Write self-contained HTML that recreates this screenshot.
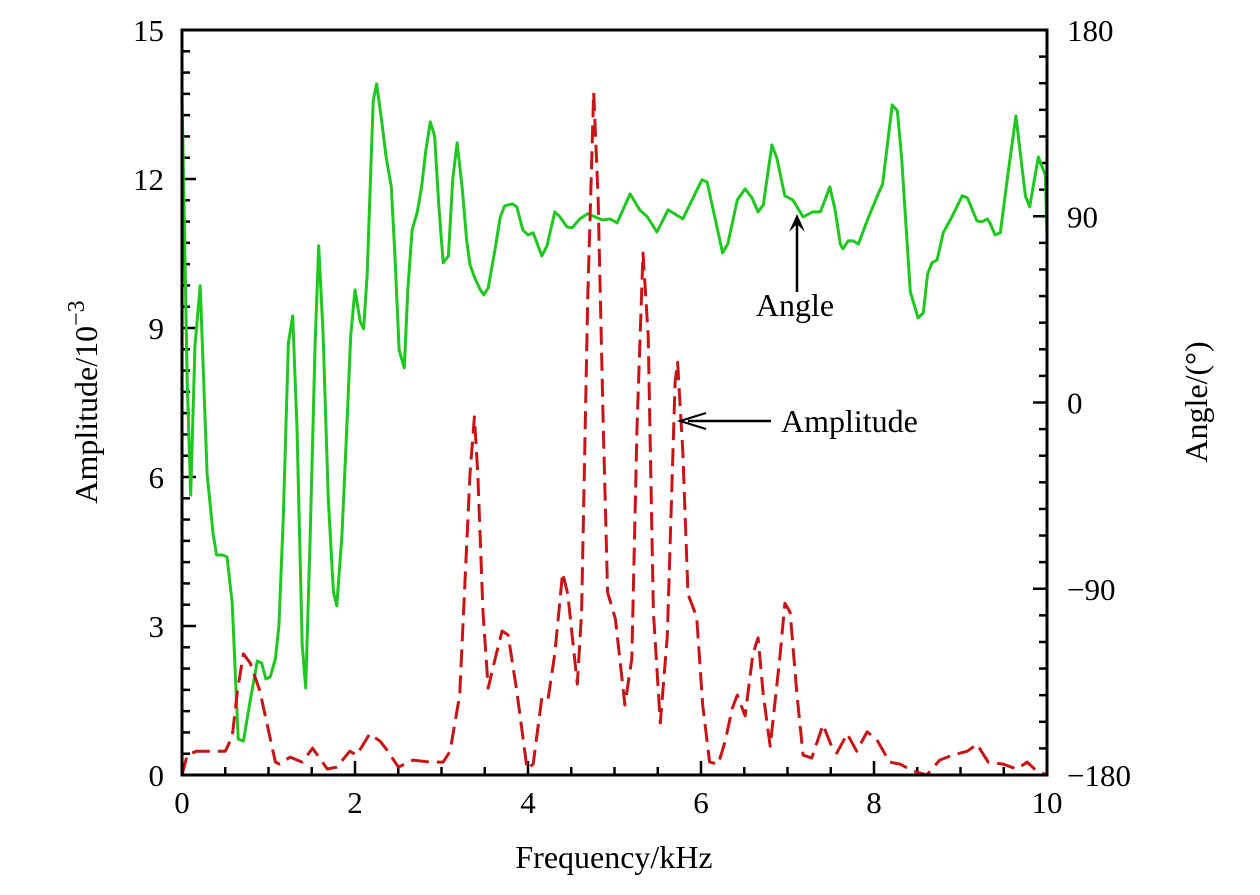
<!DOCTYPE html>
<html><head><meta charset="utf-8"><style>
html,body{margin:0;padding:0;background:#fff;}
svg text{font-family:"Liberation Serif",serif;fill:#000;}
</style></head><body>
<svg id="chart" width="1260" height="890" viewBox="0 0 1260 890" xmlns="http://www.w3.org/2000/svg">
<g id="ticks"></g>
<g id="series"></g>
<rect x="182" y="30" width="865" height="745" fill="none" stroke="#000" stroke-width="3"/>
<g id="labels" font-size="31"></g>
<text x="614" y="868" font-size="32" text-anchor="middle">Frequency/kHz</text>
<text transform="translate(97,402) rotate(-90)" font-size="32" text-anchor="middle">Amplitude/10<tspan dy="-13" font-size="24">−3</tspan></text>
<text transform="translate(1207,402) rotate(-90)" font-size="32" text-anchor="middle">Angle/(°)</text>
<g>
<line x1="797" y1="292" x2="797" y2="222" stroke="#000" stroke-width="2.5"/>
<path d="M789,232 L797,214 L805,232 L797,224 Z" fill="#000"/>
<text x="795" y="316" font-size="32" text-anchor="middle">Angle</text>
</g>
<g>
<line x1="771" y1="421" x2="688" y2="421" stroke="#000" stroke-width="2.5"/>
<path d="M706,413 L680,421 L706,429" fill="none" stroke="#000" stroke-width="2"/>
<text x="781" y="432" font-size="32">Amplitude</text>
</g>
</svg>
<script>
const ampFreq=[0,0.06,0.17,0.36,0.50,0.58,0.64,0.71,0.79,0.90,0.98,1.08,1.13,1.25,1.39,1.51,1.68,1.79,1.94,2.02,2.17,2.29,2.38,2.50,2.67,2.87,3.02,3.10,3.21,3.33,3.38,3.42,3.48,3.54,3.62,3.70,3.77,3.87,3.99,4.06,4.16,4.23,4.31,4.40,4.46,4.57,4.62,4.69,4.76,4.81,4.87,4.92,5.01,5.06,5.12,5.20,5.26,5.33,5.39,5.45,5.53,5.61,5.70,5.73,5.79,5.85,5.95,6.02,6.10,6.20,6.28,6.36,6.42,6.51,6.60,6.66,6.72,6.80,6.91,6.97,7.03,7.11,7.18,7.28,7.41,7.51,7.57,7.69,7.80,7.92,8.03,8.18,8.30,8.45,8.61,8.76,8.91,9.08,9.19,9.32,9.49,9.65,9.77,9.88,10];
const ampValues=[0,0.40,0.48,0.48,0.48,0.77,1.69,2.44,2.25,1.69,1.05,0.26,0.22,0.36,0.26,0.54,0.12,0.16,0.48,0.40,0.83,0.68,0.48,0.16,0.30,0.26,0.26,0.48,1.61,6.06,7.21,6.06,3.28,1.75,2.34,2.90,2.82,1.69,0.12,0.22,1.55,1.51,2.44,4.07,3.64,1.83,3.28,9.58,13.75,11.62,6.99,3.68,3.14,2.36,1.41,2.34,6.99,10.51,8.84,3.28,1.05,2.80,7.91,8.31,6.52,3.64,3.18,1.41,0.26,0.22,0.68,1.33,1.61,1.19,2.44,2.76,1.61,0.58,2.34,3.46,3.28,1.61,0.40,0.34,1.01,0.58,0.44,0.83,0.48,0.87,0.72,0.26,0.22,0.08,0,0.30,0.40,0.48,0.62,0.26,0.22,0.12,0.26,0.08,0];
const angFreq=[0,0.06,0.10,0.15,0.21,0.29,0.36,0.40,0.47,0.52,0.58,0.65,0.71,0.79,0.87,0.92,0.97,1.02,1.08,1.12,1.17,1.23,1.28,1.33,1.39,1.43,1.48,1.54,1.58,1.63,1.69,1.75,1.79,1.85,1.91,1.95,2.00,2.06,2.10,2.14,2.21,2.25,2.31,2.36,2.42,2.46,2.51,2.57,2.61,2.66,2.72,2.77,2.82,2.87,2.92,2.97,3.02,3.08,3.13,3.18,3.24,3.29,3.33,3.39,3.45,3.49,3.54,3.62,3.68,3.73,3.82,3.87,3.94,4.00,4.06,4.16,4.22,4.31,4.37,4.45,4.51,4.60,4.69,4.80,4.87,4.95,5.03,5.18,5.29,5.38,5.49,5.62,5.79,6.01,6.07,6.25,6.31,6.42,6.51,6.59,6.66,6.72,6.82,6.88,6.94,6.97,7.06,7.18,7.29,7.38,7.49,7.55,7.61,7.64,7.70,7.76,7.82,7.92,8.03,8.10,8.21,8.27,8.32,8.42,8.51,8.57,8.62,8.67,8.73,8.80,8.90,9.02,9.08,9.19,9.25,9.31,9.34,9.40,9.46,9.54,9.64,9.75,9.80,9.90,9.98,10.0];
const angValues=[148.7,10.0,-44.7,27.8,56.4,-34.5,-63.5,-73.7,-73.7,-74.6,-96.9,-162.6,-163.6,-143.8,-124.9,-125.9,-133.6,-132.6,-123.9,-108.0,-56.7,28.8,41.8,-12.3,-117.2,-137.9,-67.9,29.8,75.7,34.1,-45.6,-91.5,-98.3,-63.5,-7.9,32.2,54.4,39.0,35.6,61.2,145.8,154.0,135.6,118.7,104.2,72.3,25.4,16.7,54.4,83.4,92.1,104.2,122.1,135.6,128.8,94.5,67.5,70.8,107.6,125.5,103.2,78.6,66.5,59.7,54.4,52.0,55.4,74.2,89.7,95.0,96.0,94.5,83.4,81.0,82.0,70.8,75.7,92.1,89.7,84.9,84.4,88.7,91.2,89.2,88.2,88.7,86.8,100.8,93.1,89.7,82.4,93.1,88.7,107.6,106.6,72.3,76.6,97.9,103.2,98.9,92.1,95.5,124.5,117.7,105.6,99.9,97.9,89.7,92.1,92.1,104.2,93.1,76.6,74.2,78.1,78.1,76.6,87.8,98.9,105.6,143.8,140.9,117.7,53.5,40.9,43.3,62.1,67.5,68.9,82.0,89.7,99.9,98.9,87.8,87.3,88.7,86.8,81.0,82.0,107.6,138.5,99.9,94.5,118.7,110.0,81.0];
const xTicks=[0,2,4,6,8,10];
const ampTicks=[0,3,6,9,12,15];
const angTicks=[-180,-90,0,90,180];
const angTickLabels=["−180","−90","0","90","180"];

const L=182,R=1047,T=30,B=775;
const xs=f=>L+(f-0)/(10-0)*(R-L);
const ya=a=>B-(a/15)*(B-T);
const yg=d=>B-((d+180)/360)*(B-T);
const NS="http://www.w3.org/2000/svg";
function mk(tag,attrs,parent){const e=document.createElementNS(NS,tag);for(const k in attrs)e.setAttribute(k,attrs[k]);parent.appendChild(e);return e;}
const tg=document.getElementById('ticks'),lg=document.getElementById('labels'),sg=document.getElementById('series');
for(let i=0;i<=20;i++){const v=i*0.5,x=xs(v),len=(i%4===0)?14:8;
 const t=mk('line',{x1:x,y1:B,x2:x,y2:B-len,stroke:'#000','stroke-width':2.5},tg);
 
 }
xTicks.forEach(v=>{const t=mk('text',{x:xs(v),y:B+38,'text-anchor':'middle'},lg);t.textContent=v;
 
 });
for(let i=0;i<=35;i++){const v=i*3/7,y=ya(v),len=(i%7===0)?14:8;
 const t=mk('line',{x1:L,y1:y,x2:L+len,y2:y,stroke:'#000','stroke-width':2.5},tg);
 
 }
ampTicks.forEach(v=>{const t=mk('text',{x:L-18,y:ya(v)+11,'text-anchor':'end'},lg);t.textContent=v;
 
 });
for(let i=0;i<=28;i++){const v=-180+i*90/7,y=yg(v),len=(i%7===0)?14:8;
 const t=mk('line',{x1:R,y1:y,x2:R-len,y2:y,stroke:'#000','stroke-width':2.5},tg);
 
 }
angTicks.forEach((v,i)=>{const t=mk('text',{x:R+20,y:yg(v)+11,'text-anchor':'start'},lg);t.textContent=angTickLabels[i];
 
 });
const angPts=angFreq.map((f,i)=>xs(f).toFixed(1)+','+yg(angValues[i]).toFixed(1)).join(' ');
const gl=mk('polyline',{points:angPts,fill:'none',stroke:'#1ec81e','stroke-width':3,'stroke-linejoin':'round'},sg);


const ampPts=ampFreq.map((f,i)=>xs(f).toFixed(1)+','+ya(ampValues[i]).toFixed(1)).join(' ');
const rl=mk('polyline',{points:ampPts,fill:'none',stroke:'#c81414','stroke-width':3,'stroke-dasharray':'18 8','stroke-linejoin':'round'},sg);


</script>
</body></html>
